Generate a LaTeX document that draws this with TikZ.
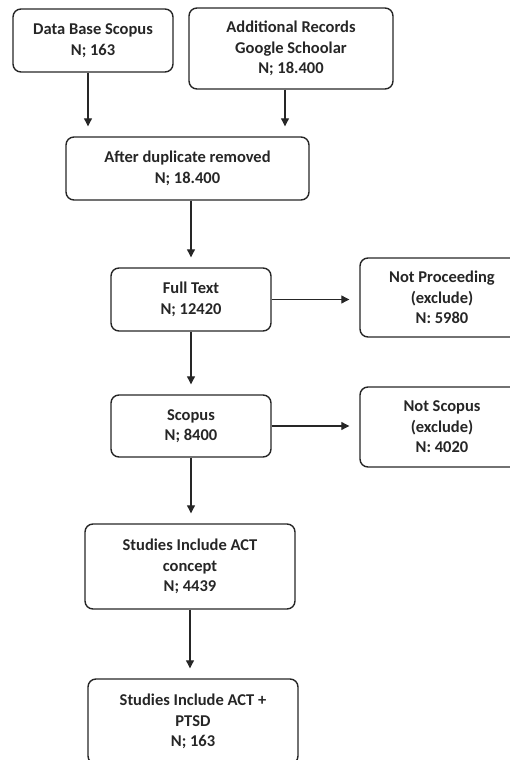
\documentclass[tikz,border=0pt]{standalone}
\usepackage{fontspec}
\setmainfont{Carlito}
\usetikzlibrary{arrows.meta}

\begin{document}
\begin{tikzpicture}[x=1pt,y=-1pt,
  box/.style={draw=black!85,line width=1.4pt,rounded corners=8pt,align=center,
    text=black!85,inner sep=0pt,font=\bfseries\fontsize{16.5}{20.5}\selectfont},
  arr/.style={draw=black!85,line width=1.1pt,-{Triangle[width=8pt,length=8pt]},shorten >=10pt}]
\useasboundingbox (0,0) rectangle (509,760);

%%%%%
\node[box,minimum width=160pt,minimum height=63pt] (db) at (93,40.5) {Data Base Scopus\\N; 163};
\node[box,minimum width=204pt,minimum height=81pt] (google) at (291,48.5) {Additional Records\\Google Schoolar\\N; 18.400};
\node[box,minimum width=243pt,minimum height=63pt] (dup) at (187.5,168.5) {After duplicate removed\\N; 18.400};

%%%%%
\node[box,minimum width=160pt,minimum height=63pt] (full) at (191,299.5) {Full Text\\N; 12420};
\node[box,minimum width=164pt,minimum height=79pt] (notproc) at (442,297.5) {Not Proceeding\\(exclude)\\N: 5980};
\node[box,minimum width=160pt,minimum height=62pt] (scop) at (191,426) {Scopus\\N; 8400};
\node[box,minimum width=164pt,minimum height=80pt] (notscop) at (442,427) {Not Scopus\\(exclude)\\N: 4020};

%%%%%
\node[box,minimum width=210pt,minimum height=85pt] (act) at (190,566.5) {Studies Include ACT\\concept\\N; 4439};
\node[box,minimum width=210pt,minimum height=85pt] (ptsd) at (193,721.5) {Studies Include ACT +\\PTSD\\N; 163};

%%%%%
\draw[arr] ([xshift=-5pt]db.south) -- ([xshift=-5pt]db.south |- dup.north);
\draw[arr] ([xshift=-6pt]google.south) -- ([xshift=-6pt]google.south |- dup.north);
\draw[arr] (dup.south -| full.north) -- (full.north);
\draw[arr] (full.south) -- (scop.north);
\draw[arr] (scop.south) -- (scop.south |- act.north);
\draw[arr] (act.south) -- (act.south |- ptsd.north);
\draw[arr] (full.east) -- (full.east -| notproc.west);
\draw[arr] (scop.east) -- (scop.east -| notscop.west);

\end{tikzpicture}
\end{document}
